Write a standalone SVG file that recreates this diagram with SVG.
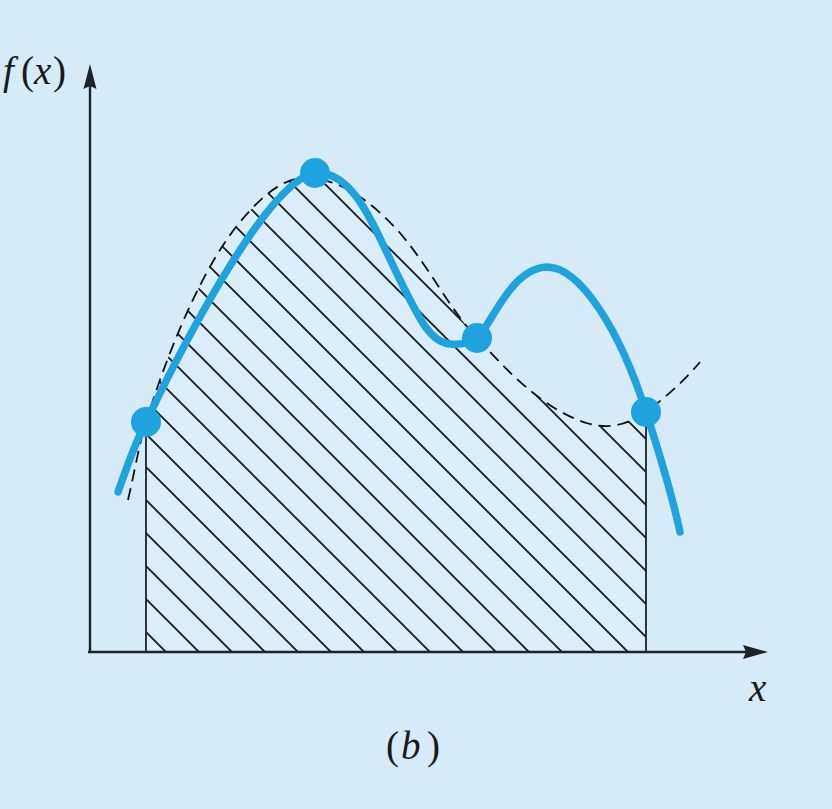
<svg xmlns="http://www.w3.org/2000/svg" width="832" height="809" viewBox="0 0 832 809">
  <style>
    .axis { stroke: #1e2226; stroke-width: 2.4; fill: none; }
    .edge { stroke: #1e2226; stroke-width: 1.8; fill: none; }
    .dash { stroke: #111; stroke-width: 1.8; fill: none; stroke-dasharray: 12 7; }
    .blue { stroke: #1fa3df; stroke-width: 7.5; fill: none; stroke-linecap: round; stroke-linejoin: round; }
    .pt { fill: #1fa3df; }
    .lbl { font-family: "Liberation Serif", "DejaVu Serif", serif; font-size: 39px; fill: #1a1a1a; }
    .it { font-style: italic; }
  </style>
  <defs>
    <pattern id="hatch" patternUnits="userSpaceOnUse" x="0" y="24" width="33" height="33">
      <path d="M-5,-5 L38,38 M-5,28 L5,38 M28,-5 L38,5" stroke="#1a1e22" stroke-width="1.9"/>
    </pattern>
  </defs>
  <rect x="0" y="0" width="832" height="809" fill="#d6eaf8"/>

  <g id="area">
    <path d="M146,422 C165,360 200,270 240,222 C265,192 285,178 305,178 C340,178 370,200 400,233 C430,268 450,310 477,338 C500,362 540,410 590,424 C615,430 630,422 646,412 L646,652 L146,652 Z" fill="#dcedfa"/>
    <path d="M146,422 C165,360 200,270 240,222 C265,192 285,178 305,178 C340,178 370,200 400,233 C430,268 450,310 477,338 C500,362 540,410 590,424 C615,430 630,422 646,412 L646,652 L146,652 Z" fill="url(#hatch)"/>
    <path class="edge" d="M146,422 L146,652 M646,412 L646,652"/>
  </g>

  <g id="axes">
    <path class="axis" d="M90,652 L90,84 M88,652 L748,652"/>
    <polygon points="90,64 83.5,89 90,86 96.5,89" fill="#1e2226"/>
    <polygon points="768,652 743,645 746,652 743,659" fill="#1e2226"/>
  </g>

  <g id="connectors">
    <path class="dash" d="M128,500 C135,470 140,440 146,422 C165,360 200,270 240,222 C265,192 285,178 305,178 C340,178 370,200 400,233 C430,268 450,310 477,338 C500,362 540,410 590,424 C615,430 630,422 646,412 C665,398 685,380 700,362"/>
    <path class="blue" d="M118,492 C126,470 134,445 146,422 C190,330 270,180 315,173 C355,170 375,230 400,280 C420,320 430,342 450,344 C462,345 470,343 477,338 C490,328 510,268 547,267 C580,267 620,330 646,412 C660,455 672,495 680,532"/>
  </g>

  <g id="p1"><circle class="pt" cx="146" cy="422" r="15"/></g>
  <g id="p2"><circle class="pt" cx="315" cy="173" r="15"/></g>
  <g id="p3"><circle class="pt" cx="477" cy="338" r="15"/></g>
  <g id="p4"><circle class="pt" cx="646" cy="412" r="15"/></g>

  <g id="labels">
    <text class="lbl" y="84"><tspan class="it" x="3">f</tspan><tspan x="21">(</tspan><tspan class="it" x="34">x</tspan><tspan x="53">)</tspan></text>
    <text class="lbl it" x="749" y="701">x</text>
    <text class="lbl" y="759" font-size="41"><tspan x="386">(</tspan><tspan class="it" x="401">b</tspan><tspan x="427">)</tspan></text>
  </g>
</svg>
